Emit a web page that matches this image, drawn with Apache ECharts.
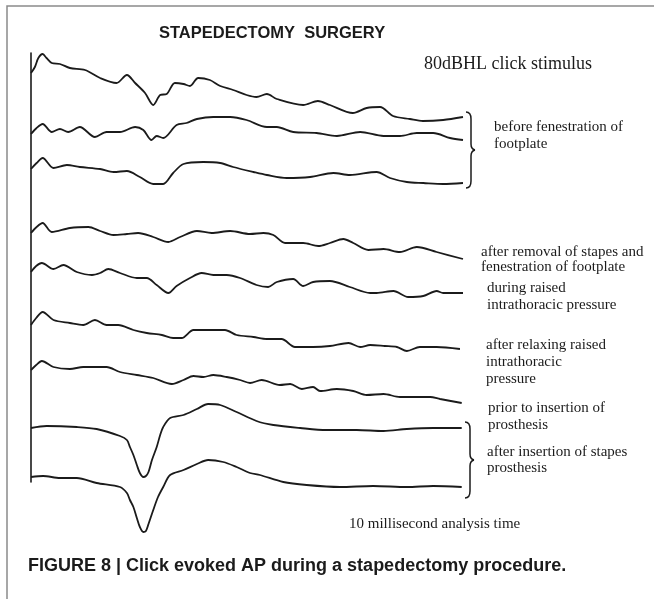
<!DOCTYPE html>
<html>
<head>
<meta charset="utf-8">
<script src="https://cdn.jsdelivr.net/npm/echarts@6/dist/echarts.min.js"></script>
<style>
html, body { margin: 0; padding: 0; background: #fff; }
#chart { width: 654px; height: 599px; }
</style>
</head>
<body>
<div id="chart"></div>
<script>
// each trace: [time (ms, 10 ms sweep), amplitude relative to trace start]
const beforeFen1 = [[0,0],[0.09,6],[0.17,15],[0.27,19],[0.36,15],[0.48,10],[0.67,9],[0.9,5],[1.25,3],[1.6,-5],[1.98,-10],[2.22,-2],[2.41,-10],[2.64,-20],[2.83,-32],[2.99,-22],[3.14,-21],[3.33,-10],[3.53,-11],[3.68,-13],[3.87,-5],[4.14,-7],[4.38,-13],[4.68,-17],[4.99,-22],[5.22,-24],[5.46,-21],[5.69,-26],[6.3,-32],[6.64,-28],[6.92,-32],[7.45,-40],[7.77,-35],[8.08,-34],[8.38,-43],[8.77,-46],[9.07,-48],[9.54,-47],[10,-44]];
const beforeFen2 = [[0,0],[0.13,6],[0.27,10],[0.48,2],[0.67,5],[0.86,2],[1.13,7],[1.48,-3],[1.75,2],[2.06,2],[2.41,7],[2.6,4],[2.79,-6],[2.91,-2],[3.06,-4],[3.37,9],[3.6,11],[3.84,15],[4.22,17],[4.61,17],[4.99,14],[5.46,7],[5.69,7],[6.07,2],[6.61,1],[7.08,-2],[7.62,2],[8.16,-2],[8.54,-2],[8.93,1],[9.31,1],[9.7,-4],[10,-6]];
const beforeFen3 = [[0,0],[0.13,6],[0.27,11],[0.52,1],[0.83,4],[1.13,2],[1.6,0],[1.91,-3],[2.22,-2],[2.52,-8],[2.83,-15],[3.06,-15],[3.29,-4],[3.53,5],[3.99,7],[4.38,6],[4.68,2],[5.15,-3],[5.46,-6],[5.92,-9],[6.46,-8],[7,-4],[7.38,-6],[8,-3],[8.31,-9],[8.7,-13],[9.08,-14],[9.54,-15],[10,-14]];
const afterRemoval = [[0,0],[0.13,6],[0.27,10],[0.48,1],[0.9,5],[1.33,6],[1.6,2],[1.91,-2],[2.22,-1],[2.48,0],[2.83,-4],[3.18,-9],[3.45,-4],[3.84,2],[4.18,0],[4.61,2],[5.07,-1],[5.38,0],[5.61,-2],[5.88,-10],[6.3,-10],[6.65,-13],[6.92,-10],[7.23,-6],[7.46,-10],[7.81,-17],[8.16,-16],[8.54,-19],[8.93,-14],[9.39,-19],[10,-26]];
const raisedPressure = [[0,0],[0.12,6],[0.25,9],[0.52,3],[0.75,7],[1.06,0],[1.41,-3],[1.6,-1],[1.79,3],[2.06,-1],[2.45,-6],[2.68,-6],[2.91,-13],[3.18,-21],[3.37,-14],[3.68,-6],[3.95,-1],[4.22,-3],[4.53,-3],[4.84,-6],[5.22,-13],[5.49,-15],[5.69,-10],[6.07,-7],[6.3,-14],[6.53,-10],[6.92,-9],[7.38,-15],[7.85,-21],[8,-21],[8.39,-19],[8.73,-25],[9.08,-24],[9.39,-19],[9.54,-21],[10,-21]];
const relaxedPressure = [[0,0],[0.12,7],[0.27,13],[0.52,5],[0.9,2],[1.21,0],[1.48,5],[1.75,0],[2.02,0],[2.37,-5],[2.68,-8],[3.03,-10],[3.29,-13],[3.49,-13],[3.76,-5],[4.14,-5],[4.49,-5],[4.76,-10],[5.15,-12],[5.46,-14],[5.8,-14],[6.11,-22],[6.53,-22],[6.92,-21],[7.35,-18],[7.62,-22],[7.85,-20],[8.19,-21],[8.47,-22],[8.7,-26],[9,-22],[9.39,-22],[9.93,-24]];
const priorInsertion = [[0,0],[0.12,5],[0.25,9],[0.52,3],[0.9,1],[1.21,3],[1.75,3],[2.06,-2],[2.45,-5],[2.83,-8],[3.26,-14],[3.53,-10],[3.76,-6],[3.99,-7],[4.22,-5],[4.53,-7],[4.84,-10],[5.07,-13],[5.34,-10],[5.76,-15],[6,-14],[6.27,-19],[6.53,-17],[6.69,-21],[7.08,-19],[7.46,-21],[7.77,-25],[8.16,-24],[8.54,-27],[8.93,-27],[9.24,-27],[9.47,-29],[9.97,-33]];
const afterInsertion1 = [[0,0],[0.36,2],[1.06,1],[1.52,-1],[2.06,-8],[2.22,-12],[2.29,-19],[2.37,-27],[2.45,-37],[2.52,-45],[2.6,-49],[2.66,-48],[2.72,-44],[2.8,-32],[2.91,-19],[2.99,-7],[3.06,1],[3.22,10],[3.53,13],[3.84,19],[4.1,24],[4.38,23],[4.76,16],[5.22,7],[5.61,3],[6.23,0],[6.84,-2],[7.54,-2],[8.16,-3],[8.7,-1],[9.31,0],[9.97,0]];
const afterInsertion2 = [[0,0],[0.28,1],[0.67,-1],[1.06,-1],[1.52,-6],[2.06,-10],[2.22,-16],[2.29,-23],[2.37,-30],[2.45,-41],[2.52,-50],[2.6,-55],[2.66,-54],[2.72,-47],[2.83,-33],[2.94,-20],[3.06,-10],[3.22,2],[3.53,7],[3.84,13],[4.1,17],[4.45,15],[4.76,10],[5.07,4],[5.3,2],[5.84,-5],[6.38,-8],[7.15,-10],[7.92,-9],[8.7,-10],[9.31,-9],[9.97,-10]];

const traces = [beforeFen1, beforeFen2, beforeFen3, afterRemoval, raisedPressure,
  relaxedPressure, priorInsertion, afterInsertion1, afterInsertion2];
// where each trace sits on the stacked display
const baselines = [526, 465, 430, 366, 327, 274, 229, 171, 122];

const ink = '#1b1b1b';
const serif = 'Liberation Serif';

function label(text, x, y, size, font, bold) {
  return {
    type: 'text', x: x, y: y, silent: true,
    style: {
      text: text, fill: ink,
      font: (bold ? 'bold ' : '') + size + 'px "' + font + '"',
      textVerticalAlign: 'middle', verticalAlign: 'middle'
    }
  };
}

// curly brace "}" drawn from curves and lines
function brace(x, top, bottom) {
  const mid = (top + bottom) / 2, w = 5;
  const st = { stroke: ink, lineWidth: 1.5, fill: null };
  const curve = (x1, y1, cx, cy, x2, y2) => ({
    type: 'bezierCurve', silent: true,
    shape: { x1: x1, y1: y1, cpx1: cx, cpy1: cy, x2: x2, y2: y2 }, style: st
  });
  const seg = (y1, y2) => ({
    type: 'line', silent: true, shape: { x1: x + w, y1: y1, x2: x + w, y2: y2 }, style: st
  });
  return [
    curve(x, top, x + w, top, x + w, top + 7),
    seg(top + 7, mid - 6),
    curve(x + w, mid - 6, x + w, mid - 1, x + w + 4, mid),
    curve(x + w + 4, mid, x + w, mid + 1, x + w, mid + 6),
    seg(mid + 6, bottom - 7),
    curve(x + w, bottom - 7, x + w, bottom, x, bottom)
  ];
}

let chart = echarts.init(document.getElementById('chart'));
chart.setOption({
  animation: false,
  grid: { left: 31, right: 191, top: 53, bottom: 117 },
  xAxis: { type: 'value', min: 0, max: 10, show: false },
  yAxis: {
    type: 'value', min: 117, max: 546,
    axisLine: { show: true, lineStyle: { color: ink, width: 1.6 } },
    axisTick: { show: false }, axisLabel: { show: false }, splitLine: { show: false }
  },
  series: traces.map((tr, i) => ({
    type: 'line',
    data: tr.map(p => [p[0], baselines[i] + p[1]]),
    showSymbol: false,
    smooth: 0.3,
    clip: false,
    lineStyle: { color: ink, width: 1.8 }
  })),
  graphic: [
    { type: 'polyline', silent: true, shape: { points: [[7, 599], [7, 6], [654, 6]] },
      style: { stroke: '#8a8a8a', lineWidth: 1.5, fill: null } }
  ].concat(brace(466, 112, 188), brace(465, 422, 498), [
    label('STAPEDECTOMY  SURGERY', 159, 33, 16.5, 'Liberation Sans', true),
    label('80dBHL click stimulus', 424, 64, 18, serif),
    label('before fenestration of', 494, 127, 15, serif),
    label('footplate', 494, 144, 15, serif),
    label('after removal of stapes and', 481, 252, 15, serif),
    label('fenestration of footplate', 481, 267, 15, serif),
    label('during raised', 487, 288, 15, serif),
    label('intrathoracic pressure', 487, 305, 15, serif),
    label('after relaxing raised', 486, 345, 15, serif),
    label('intrathoracic', 486, 362, 15, serif),
    label('pressure', 486, 379, 15, serif),
    label('prior to insertion of', 488, 408, 15, serif),
    label('prosthesis', 488, 425, 15, serif),
    label('after insertion of stapes', 487, 452, 15, serif),
    label('prosthesis', 487, 468, 15, serif),
    label('10 millisecond analysis time', 349, 524, 15, serif),
    label('FIGURE 8 | Click evoked AP during a stapedectomy procedure.', 28, 566, 18, 'Liberation Sans', true)
  ])
});
</script>
</body>
</html>
